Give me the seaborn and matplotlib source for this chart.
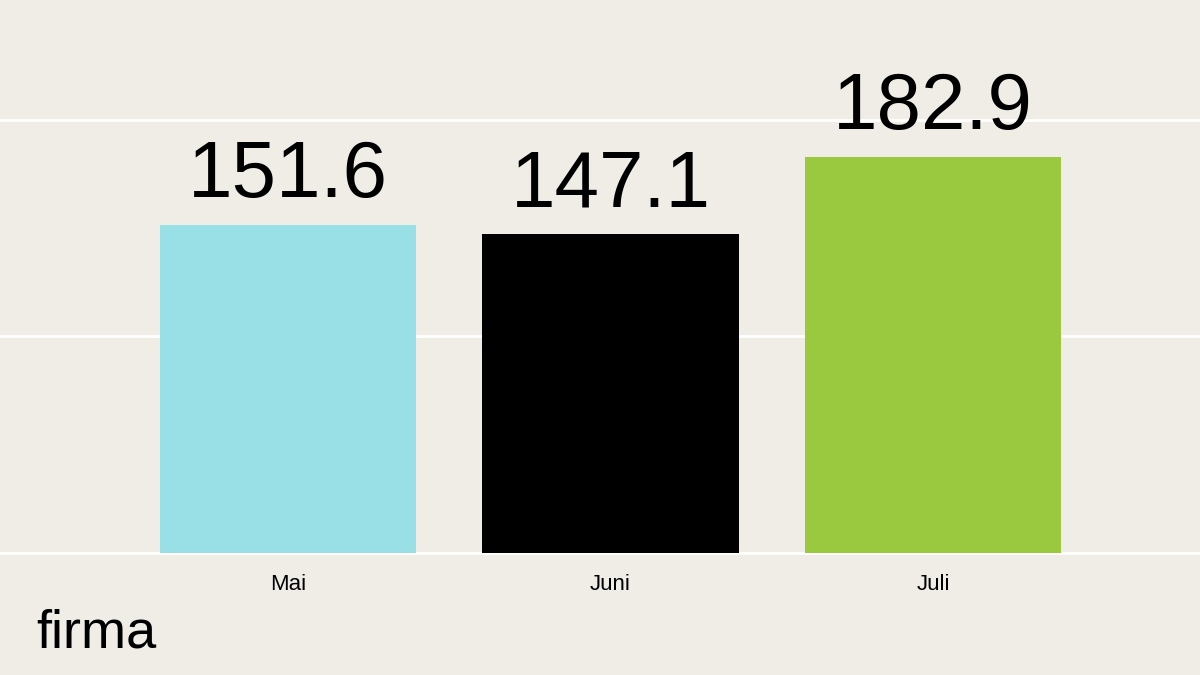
import matplotlib
matplotlib.use("Agg")
import matplotlib.pyplot as plt
import seaborn as sns
import pandas as pd

# data
months = ["Mai", "Juni", "Juli"]
values = [151.6, 147.1, 182.9]
bar_colors = ["#98E0E6", "#000000", "#9AC83E"]
grid_ticks = [0, 100, 200]

bg = "#F0EDE6"

sns.set_theme(style="white")
plt.rcParams["font.family"] = ["Liberation Sans", "DejaVu Sans"]

df = pd.DataFrame({"month": months, "value": values})

fig = plt.figure(figsize=(12, 6.75), dpi=100)
fig.patch.set_facecolor(bg)
ax = fig.add_axes([0.0, 0.1744, 1.0, 0.8256])
ax.set_facecolor(bg)

sns.barplot(data=df, x="month", y="value", hue="month",
            palette=dict(zip(months, bar_colors)), legend=False,
            width=0.794, saturation=1, linewidth=0, ax=ax, zorder=3)

ax.set_xlim(-0.893, 2.828)
ax.set_ylim(-2, 255.4)

# white gridlines
ax.set_yticks(grid_ticks)
ax.yaxis.grid(True, color="white", linewidth=2, zorder=0)
ax.set_axisbelow(True)
ax.tick_params(axis="y", left=False, labelleft=False)
ax.tick_params(axis="x", length=0, pad=12, labelsize=16, colors="black")

for s in ax.spines.values():
    s.set_visible(False)

ax.set_xlabel("")
ax.set_ylabel("")

# value labels
for i, v in enumerate(values):
    ax.annotate(f"{v:.1f}", xy=(i, v), xytext=(0, 20),
                textcoords="offset points", ha="center", va="baseline",
                fontsize=57.5, color="black")

fig.text(36 / 1200, 1 - 647 / 675, "firma", fontsize=39,
         color="black", ha="left", va="baseline")

fig.savefig("out.png", dpi=100, facecolor=bg)
